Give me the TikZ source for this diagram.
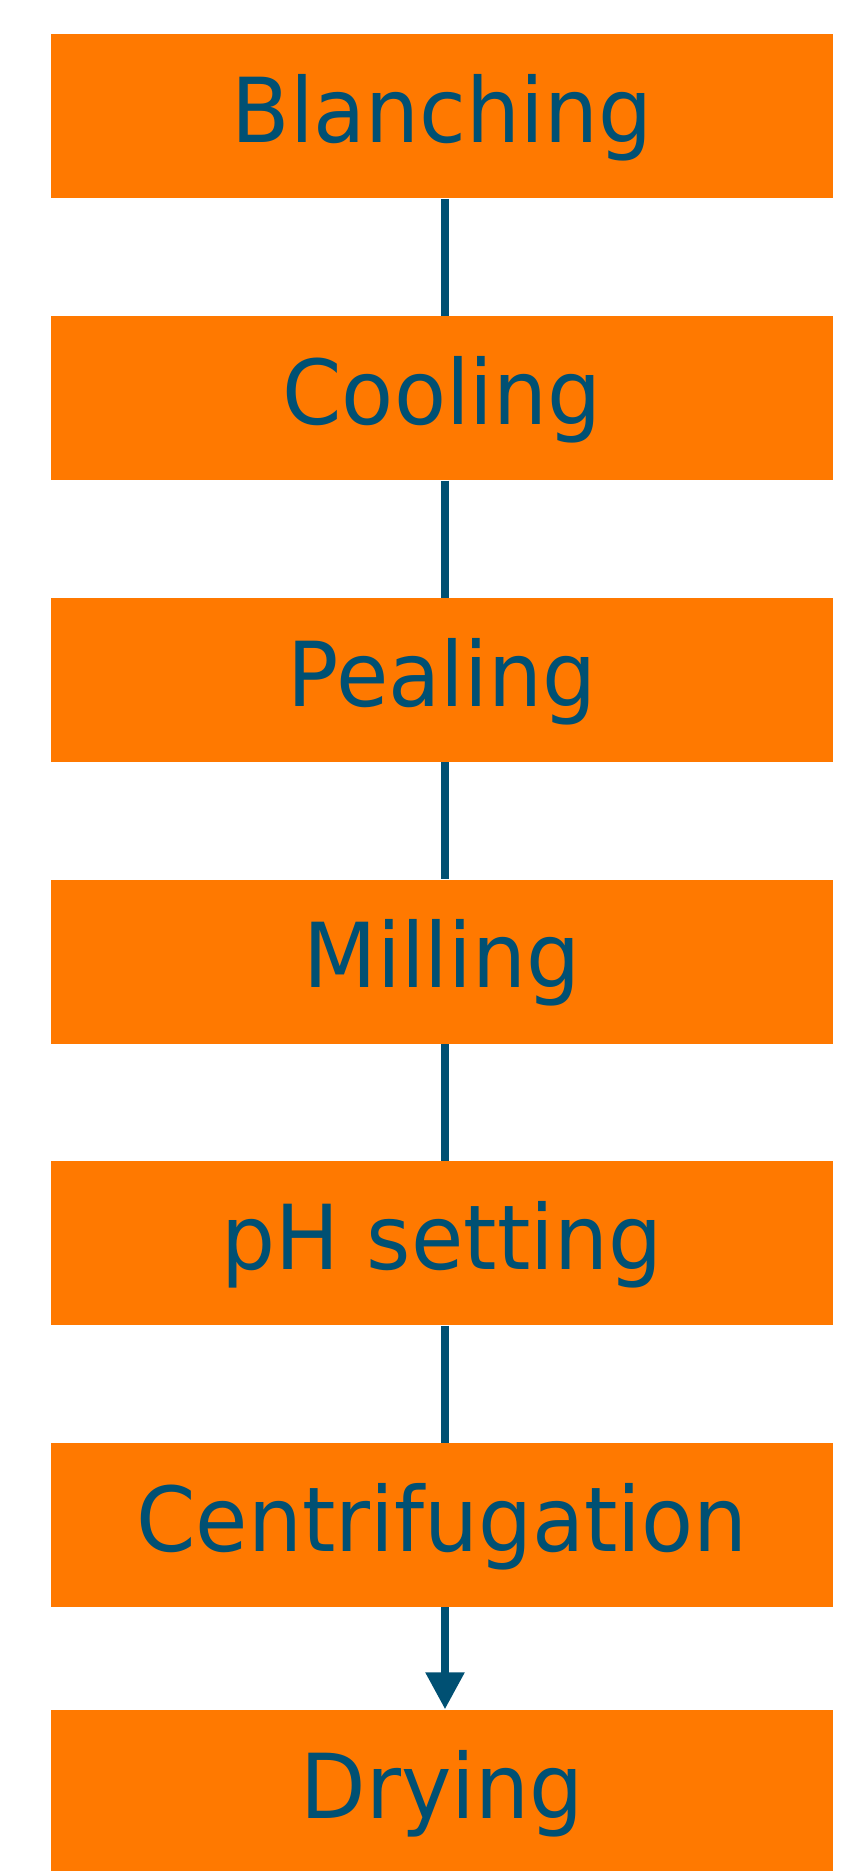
\documentclass[tikz,border=0pt]{standalone}
\usepackage{fontspec}
\setmainfont[FakeStretch=0.95]{DejaVu Sans}
\usetikzlibrary{positioning,arrows.meta}
\definecolor{steporange}{RGB}{255,121,0}
\definecolor{stepblue}{RGB}{0,80,115}
\begin{document}
\begin{tikzpicture}[font=\fontsize{51}{60}\selectfont, line join=round, >={Triangle[width=0.74cm,length=0.74cm]},
	stage/.style={fill=steporange, text=stepblue, minimum width=15.64cm, minimum height=3.28cm, inner sep=0pt, text height=40pt, text depth=10pt},
	link/.style={draw=stepblue, line width=0.17cm}]
	\useasboundingbox (0,0) rectangle (16.9,-37.42);
	\node[stage] (blanch) at (8.84,-2.33) {Blanching};
	\node[stage, below=2.34cm of blanch] (cool) {Cooling};
	\node[stage, below=2.34cm of cool] (peal) {Pealing};
	\node[stage, below=2.34cm of peal] (mill) {Milling};
	\node[stage, below=2.34cm of mill] (ph) {pH setting};
	\node[stage, below=2.34cm of ph] (centri) {Centrifugation};
	\node[stage, below=2.04cm of centri] (dry) {Drying};
	\draw[link] ([xshift=0.06cm]blanch.south)--([xshift=0.06cm]cool.north);
	\draw[link] ([xshift=0.06cm]cool.south)--([xshift=0.06cm]peal.north);
	\draw[link] ([xshift=0.06cm]peal.south)--([xshift=0.06cm]mill.north);
	\draw[link] ([xshift=0.06cm]mill.south)--([xshift=0.06cm]ph.north);
	\draw[link] ([xshift=0.06cm]ph.south)--([xshift=0.06cm]centri.north);
	\draw[link, ->] ([xshift=0.06cm]centri.south)--([xshift=0.06cm]dry.north);
\end{tikzpicture}
\end{document}
